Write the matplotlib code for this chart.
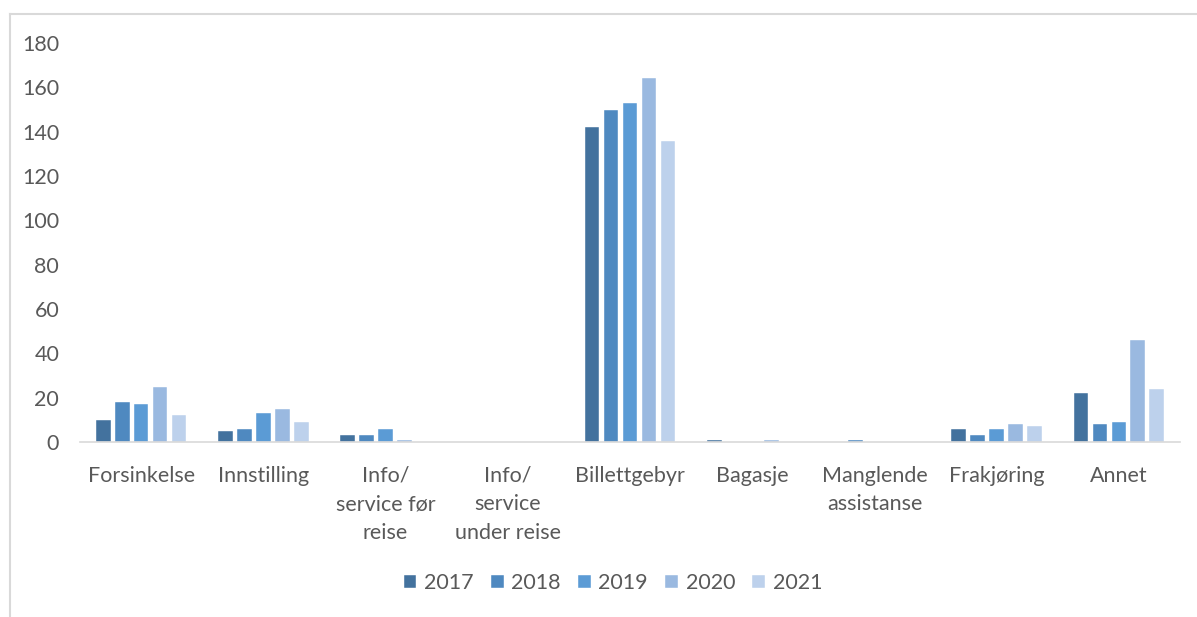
import numpy as np
import matplotlib
matplotlib.use("Agg")
import matplotlib.pyplot as plt
from matplotlib.lines import Line2D

plt.rcParams['font.family'] = ['Lato', 'DejaVu Sans']

categories = ["Forsinkelse", "Innstilling", "Info/\nservice før\nreise",
              "Info/\nservice\nunder reise", "Billettgebyr", "Bagasje",
              "Manglende\nassistanse", "Frakjøring", "Annet"]
years = ["2017", "2018", "2019", "2020", "2021"]
v2017 = [10, 5, 3, 0, 142, 1, 0, 6, 22]
v2018 = [18, 6, 3, 0, 150, 0, 1, 3, 8]
v2019 = [17, 13, 6, 0, 153, 0, 0, 6, 9]
v2020 = [25, 15, 1, 0, 164, 1, 0, 8, 46]
v2021 = [12, 9, 0, 0, 136, 0, 0, 7, 24]
series = [v2017, v2018, v2019, v2020, v2021]
colors = ["#43729e", "#4f89c0", "#5b9bd5", "#9ab9e0", "#bdd1ec"]

fig = plt.figure(figsize=(11.97, 6.17), dpi=100)
ax = fig.add_axes([80 / 1197, 1 - 442 / 617, 1100 / 1197, 399 / 617])

x = np.arange(len(categories))
step = 0.155
width = 0.12
for i, (vals, c, yr) in enumerate(zip(series, colors, years)):
    ax.bar(x + (i - 2) * step, vals, width, color=c, edgecolor="white",
           linewidth=0.3, label=yr, zorder=2)

ax.set_xlim(-0.5, len(categories) - 0.5)
ax.set_ylim(0, 180)
ax.set_yticks(range(0, 181, 20))
ax.set_xticks(x)
ax.set_xticklabels(categories, linespacing=1.55)
ax.tick_params(axis="both", length=0, labelsize=15.5, colors="#595959")
ax.tick_params(axis="y", pad=15)
ax.tick_params(axis="x", pad=17)
for s in ["top", "right", "left"]:
    ax.spines[s].set_visible(False)
ax.spines["bottom"].set_color("#d9d9d9")
ax.spines["bottom"].set_linewidth(1.2)

leg = fig.legend(loc="center", bbox_to_anchor=(613 / 1197, 1 - 583 / 617),
                 ncol=5, frameon=False, fontsize=15.5, handlelength=0.6,
                 handleheight=0.6, handletextpad=0.35, columnspacing=0.8)
for t in leg.get_texts():
    t.set_color("#595959")

# chart border (light gray frame)
fig.add_artist(Line2D([10 / 1197, 1], [1 - 14 / 617, 1 - 14 / 617],
                      transform=fig.transFigure, color="#d9d9d9", lw=1.5))
fig.add_artist(Line2D([10 / 1197, 10 / 1197], [0, 1 - 14 / 617],
                      transform=fig.transFigure, color="#d9d9d9", lw=1.5))

fig.savefig("out.png", dpi=100)
